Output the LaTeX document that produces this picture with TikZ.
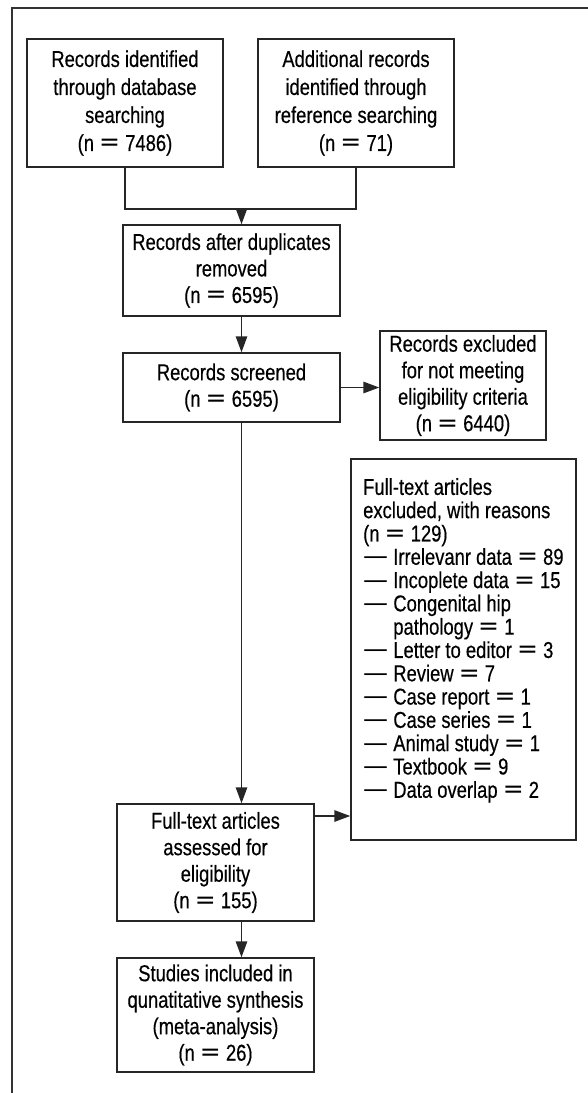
\documentclass[tikz,border=0pt]{standalone}
\usepackage{fontspec}
\setmainfont{Liberation Sans}[FakeStretch=0.8,FakeBold=0.4]
\newfontfamily\symfont{DejaVu Sans}[FakeStretch=1.0]
\newcommand\eqs{{\symfont\fontsize{25}{25}\selectfont =}}
\newcommand\dsh{{\symfont\fontsize{25}{25}\selectfont —}}
\usetikzlibrary{arrows.meta}
\begin{document}
\begin{tikzpicture}[x=1pt,y=-1pt,
  box/.style={draw=black!85,line width=1.5pt,inner sep=0pt,align=center,
    font=\fontsize{23}{26.5}\selectfont,text=black},
  conn/.style={draw=black!85,line width=1.5pt},
  arr/.style={conn,-{Triangle[length=16pt,width=11.5pt]}}]
\useasboundingbox (0,0) rectangle (588,1093);
\draw[draw=black!80,line width=2pt] (11.5,1093) -- (11.5,7.5) -- (588,7.5);
\node[box,minimum width=196pt,minimum height=128pt,font=\fontsize{23}{28}\selectfont] (b1) at (125,103)
  {Records identified\\through database\\searching\\(n \eqs{} 7486)};
\node[box,minimum width=196pt,minimum height=128pt,font=\fontsize{23}{28}\selectfont] (b2) at (356,103)
  {Additional records\\identified through\\reference searching\\(n \eqs{} 71)};
\node[box,minimum width=217pt,minimum height=91pt] (b3) at (231.5,270.5)
  {Records after duplicates\\removed\\(n \eqs{} 6595)};
\node[box,minimum width=217pt,minimum height=69pt] (b4) at (231.5,387.5)
  {Records screened\\(n \eqs{} 6595)};
\node[box,minimum width=166pt,minimum height=109pt] (b5) at (463,385.5)
  {Records excluded\\for not meeting\\eligibility criteria\\(n \eqs{} 6440)};
\node[box,minimum width=225pt,minimum height=381pt] (b6) at (463.5,649.5) {};
\node[anchor=north west,inner sep=0pt,align=left,font=\fontsize{23}{23.3}\selectfont,text=black] (b6t) at (363,478)
  {Full-text articles\\excluded, with reasons\\(n \eqs{} 129)\\
   \dsh{} Irrelevanr data \eqs{} 89\\
   \dsh{} Incoplete data \eqs{} 15\\
   \dsh{} Congenital hip\\
   \phantom{\dsh{} }pathology \eqs{} 1\\
   \dsh{} Letter to editor \eqs{} 3\\
   \dsh{} Review \eqs{} 7\\
   \dsh{} Case report \eqs{} 1\\
   \dsh{} Case series \eqs{} 1\\
   \dsh{} Animal study \eqs{} 1\\
   \dsh{} Textbook \eqs{} 9\\
   \dsh{} Data overlap \eqs{} 2};
\node[box,minimum width=197pt,minimum height=117pt] (b7) at (215.5,862.5)
  {Full-text articles\\assessed for\\eligibility\\(n \eqs{} 155)};
\node[box,minimum width=197pt,minimum height=114pt] (b8) at (215.5,1015)
  {Studies included in\\qunatitative synthesis\\(meta-analysis)\\(n \eqs{} 26)};
\coordinate (m) at (241.5,209);
\coordinate (e7) at (314,816);
\draw[conn] (b1.south) -- (b1.south |- m) -- (b2.south |- m) -- (b2.south);
\draw[arr] (m) -- (m |- b3.north);
\draw[arr] (m |- b3.south) -- (m |- b4.north);
\draw[arr] (b4.east) -- (b5.west |- b4.east);
\draw[arr] (m |- b4.south) -- (m |- b7.north);
\draw[arr] (e7) -- (b6.west |- e7);
\draw[arr] (m |- b7.south) -- (m |- b8.north);
\end{tikzpicture}
\end{document}
